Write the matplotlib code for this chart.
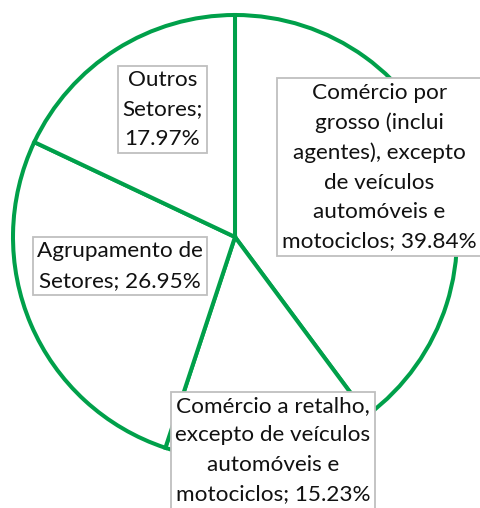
import matplotlib
matplotlib.use("Agg")
import matplotlib.pyplot as plt

categories = [
    "Comércio por\ngrosso (inclui\nagentes), excepto\nde veículos\nautomóveis e\nmotociclos",
    "Comércio a retalho,\nexcepto de veículos\nautomóveis e\nmotociclos",
    "Agrupamento de\nSetores",
    "Outros\nSetores",
]
values = [39.84, 15.23, 26.95, 17.97]
pct_labels = ["39.84%", "15.23%", "26.95%", "17.97%"]
separators = ["; ", "; ", "; ", ";\n"]

# label centre positions in pie units (radius = 1)
label_pos = [(0.649, 0.315), (0.171, -0.96), (-0.518, -0.131), (-0.327, 0.574)]

W, H = 481, 508
fig = plt.figure(figsize=(W / 100, H / 100), dpi=100)
ax = fig.add_axes([0, 0, 1, 1])
cx, cy, R = 235, 237, 222

green = "#00A04A"
ax.pie(values, startangle=90, counterclock=False, radius=1.0,
       colors=["white"] * len(values),
       wedgeprops=dict(edgecolor=green, linewidth=2.9),
       frame=True)
ax.set_xlim(-cx / R, (W - cx) / R)
ax.set_ylim(-(H - cy) / R, cy / R)
ax.axis("off")

for cat, sep, pct, (x, y) in zip(categories, separators, pct_labels, label_pos):
    ax.text(x, y, f"{cat}{sep}{pct}", ha="center", va="center",
            fontsize=16.2, family=["Lato", "DejaVu Sans"], color="#111111",
            linespacing=1.58, zorder=5,
            bbox=dict(boxstyle="square,pad=0.2", facecolor="white",
                      edgecolor="#BFBFBF", linewidth=1.3))

fig.savefig("out.png", dpi=100)
